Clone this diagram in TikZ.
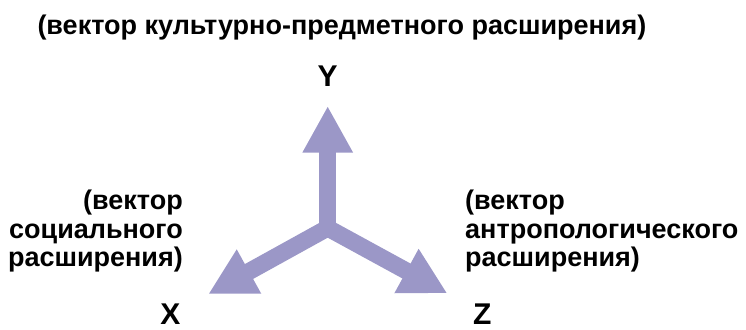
\documentclass[tikz,border=0pt]{standalone}
\usepackage{fontspec}
\setmainfont{Liberation Sans}
\usetikzlibrary{arrows.meta}
\definecolor{arrowcol}{RGB}{155,151,199}
\begin{document}
\begin{tikzpicture}[x=1pt,y=-1pt,
  lbl/.style={font=\bfseries\fontsize{27}{28.5}\selectfont, inner sep=0pt},
  axis/.style={font=\bfseries\fontsize{30}{34}\selectfont, inner sep=0pt, anchor=base},
  vec/.style={draw=arrowcol, line width=17pt, line join=miter,
    -{Triangle[width=47pt,length=46.5pt]}, arrowcol}]
\useasboundingbox (0,0) rectangle (746,329);
\coordinate (C) at (327.7,228);
\coordinate (Yt) at (327.7,106);
\coordinate (Xt) at (208.3,294);
\coordinate (Zt) at (447.3,293.3);
\draw[vec, {Triangle[width=47pt,length=46.5pt]}-{Triangle[width=47pt,length=46.5pt]}] (Xt) -- (C) -- (Zt);
\draw[vec] (C) -- (Yt);
\node[lbl, anchor=base] (title) at (341.9,35) {(вектор культурно-предметного расширения)};
\node[axis] (Y) at (327.7,86.7) {Y};
\node[axis] (X) at (170.5,324.5) {X};
\node[axis] (Z) at (482.2,324.5) {Z};
\node[lbl, align=right, anchor=base east] (lx) at (183,266.7) {(вектор\\социального\\расширения)};
\node[lbl, align=left, anchor=base west] (lz) at (465,266.7) {(вектор\\антропологического\\расширения)};
\end{tikzpicture}
\end{document}
